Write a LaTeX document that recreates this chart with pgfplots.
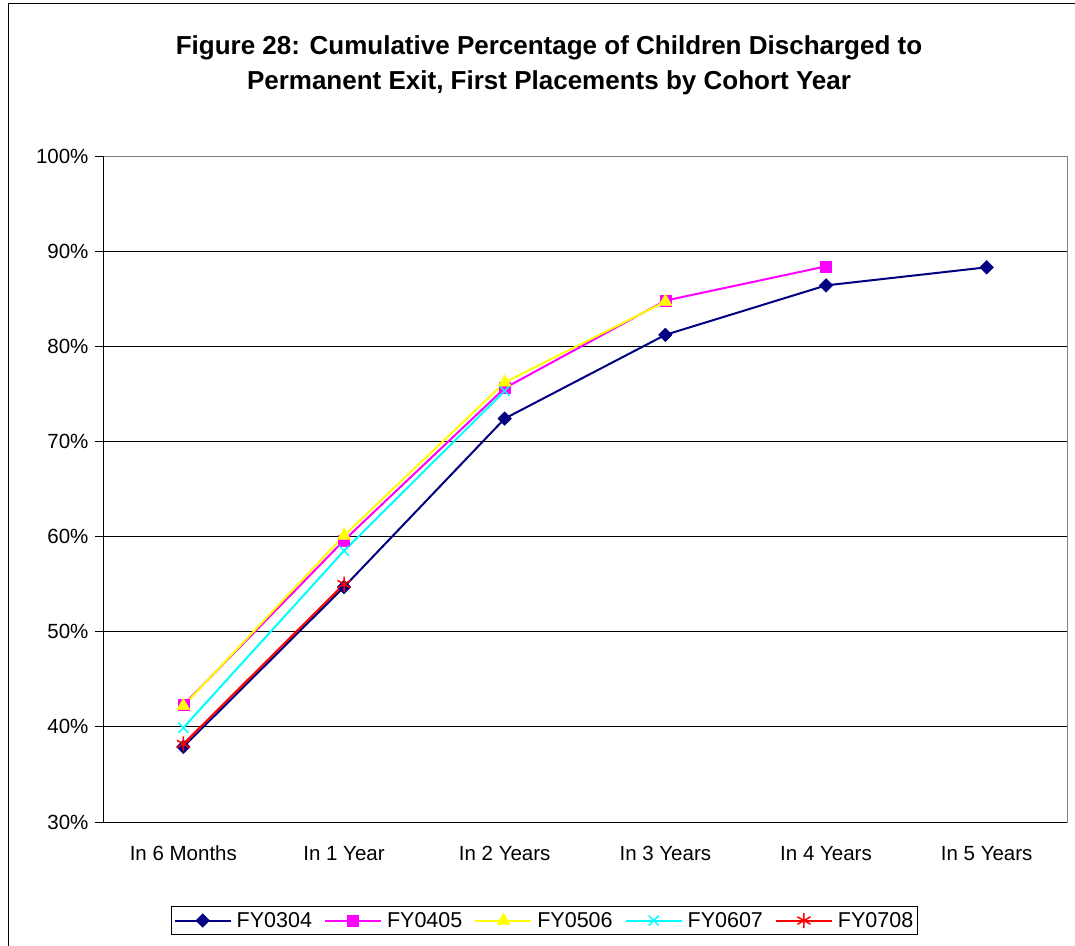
\documentclass[border=0pt]{standalone}
\usepackage{fontspec}
\setmainfont{Liberation Sans}
\usepackage{pgfplots}
\pgfplotsset{compat=1.18}

\definecolor{navyline}{RGB}{0,0,128}
\definecolor{magline}{RGB}{255,0,255}
\definecolor{yelline}{RGB}{255,255,0}
\definecolor{cyanline}{RGB}{0,255,255}
\definecolor{redline}{RGB}{255,0,0}
\definecolor{boxgray}{RGB}{128,128,128}

\begin{document}
\begin{tikzpicture}
% outer chart frame (cut off at right and bottom)
\draw[line width=1pt] (8pt,-5pt) -- (8pt,941pt) -- (1085pt,941pt);

\node[font=\fontsize{26}{35}\selectfont\bfseries, align=center] at (549pt,880pt)
  {Figure 28: Cumulative Percentage of Children Discharged to\\Permanent Exit, First Placements by Cohort Year};

\begin{axis}[
    at={(103pt,123pt)}, anchor=south west,
    scale only axis,
    width=964pt, height=666pt,
    xmin=-0.5, xmax=5.5,
    ymin=30, ymax=100,
    tick pos=left,
    xtick={0,1,2,3,4,5},
    xticklabels={In 6 Months,In 1 Year,In 2 Years,In 3 Years,In 4 Years,In 5 Years},
    x tick style={draw=none},
    extra x ticks={-0.5,0.5,1.5,2.5,3.5,4.5,5.5},
    extra x tick labels={},
    extra x tick style={major tick length=8pt, tick align=outside, tick style={draw=black, line width=0.8pt}, grid=none},
    ytick={30,40,...,100},
    yticklabel={\pgfmathprintnumber{\tick}\%},
    ymajorgrids,
    major grid style={black, line width=0.8pt},
    tick align=outside,
    major tick length=8pt,
    y tick style={black, line width=0.8pt},
    axis line style={boxgray, line width=1pt},
    tick label style={font=\fontsize{20.5}{24}\selectfont},
    yticklabel style={xshift=-3pt},
    xticklabel style={yshift=-19pt, text height=0.75em, text depth=0.25em},
    /pgf/number format/assume math mode=true,
    legend columns=5,
    legend style={at={(0.458,-0.148)}, anchor=center, draw=black, line width=0.8pt,
        font=\fontsize{21.5}{25}\selectfont, inner xsep=2pt, inner ysep=4pt,
        /tikz/every odd column/.append style={column sep=3pt},
        /tikz/every even column/.append style={column sep=10pt}},
    legend image code/.code={
        \draw[mark repeat=2,mark phase=2] plot coordinates {(0pt,0pt) (28pt,0pt) (56pt,0pt)};
    },
    every axis plot/.append style={line width=2pt},
]
\addplot[navyline, mark=diamond*, mark size=6.8pt, mark options={solid, xscale=1.33, fill=navyline, line width=0.5pt}]
  coordinates {(0,37.9) (1,54.7) (2,72.4) (3,81.2) (4,86.4) (5,88.3)};
\addlegendentry{FY0304}
\addplot[magline, mark=square*, mark size=5.5pt, mark options={solid, fill=magline, line width=0.5pt}]
  coordinates {(0,42.3) (1,59.6) (2,75.6) (3,84.8) (4,88.4)};
\addlegendentry{FY0405}
\addplot[yelline, mark=triangle*, mark size=7.5pt, mark options={solid, fill=yelline, line width=0.5pt}]
  coordinates {(0,42.2) (1,60.1) (2,76.2) (3,84.7)};
\addlegendentry{FY0506}
\addplot[cyanline, mark=x, mark size=7pt, mark options={solid, line width=1.5pt}]
  coordinates {(0,39.9) (1,58.5) (2,75.3)};
\addlegendentry{FY0607}
\addplot[redline, mark=asterisk, mark size=7.5pt, mark options={solid, line width=1.5pt}]
  coordinates {(0,38.2) (1,55.0)};
\addlegendentry{FY0708}
% black left and bottom axis lines over the gray box
\draw[black, line width=1pt] (rel axis cs:0,1) -- (rel axis cs:0,0) -- (rel axis cs:1,0);
\end{axis}
\pgfresetboundingbox
\path (0,0) rectangle (1075pt,945pt);
\end{tikzpicture}
\end{document}
